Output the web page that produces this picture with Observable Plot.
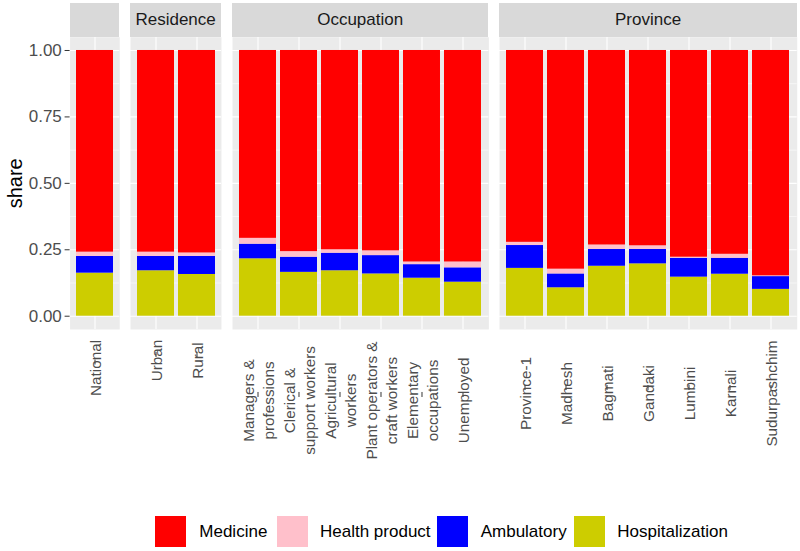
<!DOCTYPE html>
<html><head><meta charset="utf-8">
<script src="https://cdn.jsdelivr.net/npm/d3@7"></script>
<script src="https://cdn.jsdelivr.net/npm/@observablehq/plot@0.6"></script>
<style>
body{margin:0;background:#fff;font-family:"Liberation Sans",Arial,Helvetica,sans-serif;}
#chart{position:relative;width:800px;height:551px;overflow:hidden;background:#fff;}
.strip{position:absolute;background:#D9D9D9;color:#1A1A1A;font-size:17px;display:flex;align-items:center;justify-content:center;}
#chart svg{position:absolute;top:0;overflow:visible;}
.key{position:absolute;width:31px;height:31px;}
.lab{position:absolute;font-size:17px;color:#000;line-height:31px;white-space:nowrap;}
</style></head><body><div id="chart"></div>
<script>
// ---- data ----
const categories = ["National","Urban","Rural",
  "Managers &\nprofessions","Clerical &\nsupport workers","Agricultural\nworkers",
  "Plant operators &\ncraft workers","Elementary\noccupations","Unemployed",
  "Province-1","Madhesh","Bagmati","Gandaki","Lumbini","Karnali","Sudurpashchim"];
const facets = ["","Residence","Residence",
  "Occupation","Occupation","Occupation","Occupation","Occupation","Occupation",
  "Province","Province","Province","Province","Province","Province","Province"];
const hospitalization = [0.162,0.171,0.157, 0.216,0.165,0.171,0.159,0.143,0.128, 0.180,0.107,0.188,0.197,0.147,0.158,0.101];
const ambulatory      = [0.063,0.054,0.068, 0.055,0.057,0.066,0.069,0.051,0.054, 0.086,0.052,0.063,0.054,0.071,0.060,0.048];
const healthProduct   = [0.016,0.016,0.013, 0.022,0.021,0.013,0.018,0.010,0.022, 0.012,0.018,0.017,0.014,0.004,0.015,0.003];
const medicine        = [0.759,0.759,0.762, 0.707,0.757,0.750,0.754,0.796,0.796, 0.722,0.823,0.732,0.735,0.778,0.767,0.848];
const seriesNames = ["Medicine","Health product","Ambulatory","Hospitalization"];
const seriesColors = ["#FF0000","#FFC0CB","#0000FF","#CDCD00"];
const facetOrder = ["","Residence","Occupation","Province"];
const yTicks = [0,0.25,0.5,0.75,1];
const yMinor = [0.125,0.375,0.625,0.875];

const seriesValues = {"Hospitalization":hospitalization,"Ambulatory":ambulatory,"Health product":healthProduct,"Medicine":medicine};
const stackOrder = ["Hospitalization","Ambulatory","Health product","Medicine"];
const rows = [];
for (const s of stackOrder) categories.forEach((c,i)=>rows.push({facet:facets[i],category:c,series:s,share:seriesValues[s][i]}));

// ---- layout ----
const chart = document.getElementById("chart");
const unit = 41.35, gap = 10.9, x0 = 69.6;
const panelTop = 36.7, panelBottom = 329, svgH = 480;
const labelCenters = {"":367.5,"Residence":360,"Occupation":400,"Province":393};
let left = x0;
facetOrder.forEach((f,fi)=>{
  const cats = categories.filter((c,i)=>facets[i]===f);
  const w = unit*(cats.length+0.2);
  const ml = fi===0 ? x0 : 0;
  const svgLeft = left - ml;
  const data = rows.filter(d=>d.facet===f);
  const marks = [
    Plot.frame({fill:"#EBEBEB", stroke:"none"}),
    Plot.gridY(yMinor,{stroke:"white",strokeOpacity:1,strokeWidth:0.55}),
    Plot.gridY(yTicks,{stroke:"white",strokeOpacity:1,strokeWidth:1.1}),
    Plot.gridX(cats,{stroke:"white",strokeOpacity:1,strokeWidth:1.1}),
    Plot.barY(data,{x:"category",y:"share",fill:"series",order:stackOrder}),
    Plot.axisX({tickSize:5,tickPadding:3,tickRotate:-90,textAnchor:"middle",lineAnchor:"middle",lineHeight:1.3,
      dy:labelCenters[f]-337,fontSize:15.3,fill:"#4D4D4D",stroke:"#333333",label:null})
  ];
  if (fi===0) {
    marks.push(Plot.axisY(yTicks,{tickFormat:d3.format(".2f"),tickSize:5,tickPadding:3.3,fontSize:17,fill:"#4D4D4D",stroke:"#333333",label:null}));
    marks.push(Plot.text(["share"],{frameAnchor:"left",rotate:-90,dx:-55,fontSize:20,textAnchor:"middle",lineAnchor:"middle",fill:"#000"}));
  }
  const svg = Plot.plot({
    width: ml + w, height: svgH,
    marginLeft: ml, marginRight: 0, marginTop: panelTop, marginBottom: svgH-panelBottom,
    x:{domain:cats,paddingInner:0.1,paddingOuter:0.15,axis:null},
    y:{domain:[-0.05,1.05],axis:null},
    color:{domain:seriesNames,range:seriesColors},
    style:{fontFamily:'"Liberation Sans",Arial,sans-serif',background:"transparent"},
    marks
  });
  svg.style.left = svgLeft+"px";
  chart.appendChild(svg);
  const strip = document.createElement("div");
  strip.className="strip";
  strip.style.left=left+"px"; strip.style.width=w+"px";
  strip.style.top="3px"; strip.style.height=(panelTop-3)+"px";
  strip.textContent=f;
  chart.appendChild(strip);
  left += w + gap;
});

// ---- legend ----
const keyLefts=[155,276.7,437.3,574.3], labLefts=[199.3,320,480.7,617.3];
seriesNames.forEach((s,i)=>{
  const k=document.createElement("div"); k.className="key";
  k.style.left=keyLefts[i]+"px"; k.style.top="516px"; k.style.background=seriesColors[i];
  chart.appendChild(k);
  const t=document.createElement("div"); t.className="lab";
  t.style.left=labLefts[i]+"px"; t.style.top="516px"; t.textContent=s;
  chart.appendChild(t);
});
</script></body></html>
